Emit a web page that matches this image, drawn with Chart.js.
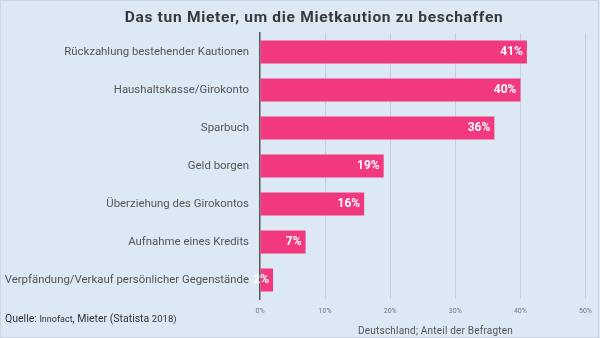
<!DOCTYPE html>
<html>
<head>
<meta charset="utf-8">
<script src="https://cdn.jsdelivr.net/npm/chart.js@4"></script>
<style>
  html, body { margin: 0; padding: 0; background: #dce8f4; }
  #wrap { position: relative; width: 600px; height: 338px; box-sizing: border-box; }
  canvas { display: block; }
</style>
</head>
<body>
<div id="wrap"><canvas id="chart" width="600" height="338"></canvas></div>
<script>
var categories = [
    'Rückzahlung bestehender Kautionen',
    'Haushaltskasse/Girokonto',
    'Sparbuch',
    'Geld borgen',
    'Überziehung des Girokontos',
    'Aufnahme eines Kredits',
    'Verpfändung/Verkauf persönlicher Gegenstände'
];
var shares = [41, 40, 36, 19, 16, 7, 2];
var xTicks = [0, 10, 20, 30, 40, 50];

var font = 'Roboto, "Liberation Sans", sans-serif';

// background, title, source lines
var decor = {
    id: 'decor',
    beforeDraw: function (chart) {
        var c = chart.ctx;
        c.save();
        c.fillStyle = '#dce8f4';
        c.fillRect(0, 0, chart.width, chart.height);
        c.strokeStyle = '#c9d5e2';
        c.lineWidth = 1;
        c.strokeRect(0.5, 0.5, chart.width - 2, chart.height - 1);
        c.restore();
    },
    afterDraw: function (chart) {
        var c = chart.ctx;
        c.save();
        c.textBaseline = 'middle';
        c.fillStyle = '#3a3a3a';
        c.font = 'bold 15.5px ' + font;
        c.letterSpacing = '0.7px';
        c.textAlign = 'center';
        c.fillText('Das tun Mieter, um die Mietkaution zu beschaffen', 314, 18);

        // Quelle line with mixed sizes
        var parts = [['Quelle: ', 10.5], ['Innofact', 9], [', Mieter (Statista ', 10.5], ['2018)', 9.5]];
        var x = 5;
        c.letterSpacing = '0px';
        c.textAlign = 'left';
        c.textBaseline = 'alphabetic';
        c.fillStyle = '#333';
        parts.forEach(function (p) {
            c.font = p[1] + 'px ' + font;
            c.fillText(p[0], x, 322);
            x += c.measureText(p[0]).width;
        });

        c.font = '10px ' + font;
        c.letterSpacing = '0.2px';
        c.fillStyle = '#555';
        c.textAlign = 'right';
        c.fillText('Deutschland; Anteil der Befragten', 513, 334);
        c.restore();
    }
};

// percent labels inside the bar ends
var valueLabels = {
    id: 'valueLabels',
    afterDatasetsDraw: function (chart) {
        var c = chart.ctx;
        var meta = chart.getDatasetMeta(0);
        c.save();
        c.font = 'bold 12px ' + font;
        c.fillStyle = '#ffffff';
        c.textAlign = 'right';
        c.textBaseline = 'middle';
        meta.data.forEach(function (bar, i) {
            c.fillText(shares[i] + '%', bar.x - 4, bar.y);
        });
        c.restore();
    }
};

window.addEventListener('load', function () {
    var ctx = document.getElementById('chart').getContext('2d');
    new Chart(ctx, {
        type: 'bar',
        data: {
            labels: categories,
            datasets: [{
                data: shares,
                backgroundColor: '#f2397f',
                barPercentage: 0.6,
                categoryPercentage: 1.0
            }]
        },
        options: {
            indexAxis: 'y',
            responsive: false,
            animation: false,
            layout: { padding: { top: 33, right: 13, bottom: 0, left: 0 } },
            plugins: {
                legend: { display: false },
                title: { display: false },
                tooltip: { enabled: false }
            },
            scales: {
                x: {
                    min: 0,
                    max: 50,
                    afterBuildTicks: function (scale) {
                        scale.ticks = xTicks.map(function (v) { return { value: v }; });
                    },
                    afterFit: function (scale) { scale.height = 39; },
                    grid: {
                        color: function (c) { return c.tick && c.tick.value === 0 ? 'rgba(0,0,0,0)' : '#c4cfdb'; },
                        drawTicks: false
                    },
                    border: { display: false },
                    ticks: {
                        padding: 8,
                        color: '#777',
                        font: { family: font, size: 7 },
                        callback: function (v) { return v + '%'; }
                    }
                },
                y: {
                    afterFit: function (scale) { scale.width = 260; },
                    grid: { display: false, drawTicks: false },
                    border: { display: true, color: '#555', width: 1.5 },
                    ticks: {
                        padding: 11,
                        color: '#555',
                        font: { family: font, size: 11.4 }
                    }
                }
            }
        },
        plugins: [decor, valueLabels]
    });
});
</script>
</body>
</html>
